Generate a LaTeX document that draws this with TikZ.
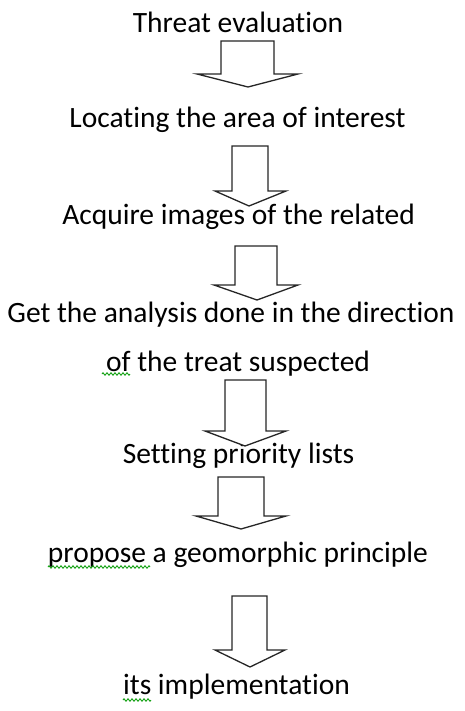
\documentclass[tikz,border=0pt]{standalone}
\usepackage{fontspec}
\setmainfont[RawFeature=-liga]{Carlito}
\usetikzlibrary{decorations.pathmorphing}
\tikzset{
  lbl/.style={anchor=base, inner sep=0pt, font=\fontsize{29.5}{32}\selectfont, text=black},
  barrow/.style={draw=black!85, line width=1.3pt, fill=white, line join=miter},
  squig/.style={draw=green!60!black, line width=0.8pt, decorate, decoration={zigzag, amplitude=1.3pt, segment length=4pt}}
}
\begin{document}
\begin{tikzpicture}[x=1pt,y=-1pt]
\useasboundingbox (0,0) rectangle (465,711);
% texts
\node[lbl] (t1) at (238,33) {Threat evaluation};
\node[lbl] (t2) at (237.5,128) {Locating the area of interest};
\node[lbl] (t3) at (238.5,224) {Acquire images of the related};
\node[lbl] (t4) at (231,322) {Get the analysis done in the direction};
\node[lbl] (t4b) at (238,371) {of the treat suspected};
\node[lbl] (t5) at (238.5,463) {Setting priority lists};
\node[lbl] (t6) at (238,562) {propose a geomorphic principle};
\node[lbl] (t7) at (236.5,694) {its implementation};
% block arrows
\draw[barrow] (221,41) -- (274,41) -- (274,74) -- (298,74) -- (248,87) -- (197,74) -- (221,74) -- cycle;
\draw[barrow] (232,146) -- (268,146) -- (268,191) -- (286,191) -- (249,206) -- (215,191) -- (232,191) -- cycle;
\draw[barrow] (235,246) -- (277,246) -- (277,285) -- (298,285) -- (257,300) -- (214,285) -- (235,285) -- cycle;
\draw[barrow] (225,380) -- (266,380) -- (266,431) -- (286,431) -- (245,446) -- (205,431) -- (225,431) -- cycle;
\draw[barrow] (218,477) -- (264,477) -- (264,516) -- (286,516) -- (241,529) -- (196,516) -- (218,516) -- cycle;
\draw[barrow] (232,596) -- (267,596) -- (267,650) -- (285,650) -- (250,667) -- (215,650) -- (232,650) -- cycle;
% spelling squiggles
\draw[squig] (102,374) -- (130,374);
\draw[squig] (48,567) -- (150,567);
\draw[squig] (123,700) -- (151,700);
\end{tikzpicture}
\end{document}
